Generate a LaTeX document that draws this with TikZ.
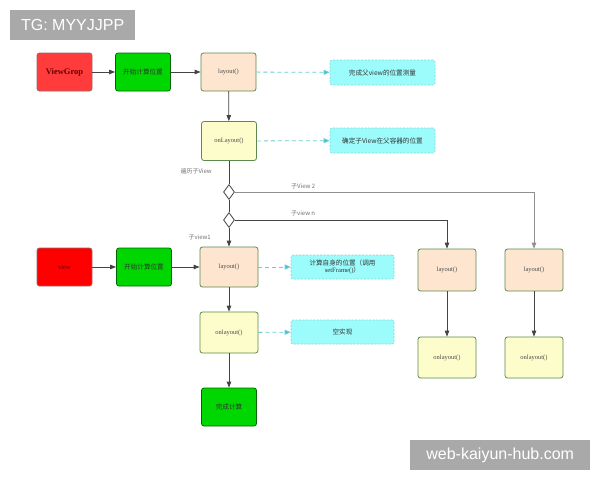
\documentclass[tikz,border=0pt]{standalone}
\usepackage{fontspec}
\setmainfont{Liberation Serif}
\setsansfont{Liberation Sans}
\newfontfamily\cjk{Noto Sans CJK SC}
\usetikzlibrary{shapes.geometric,arrows.meta}
\definecolor{redA}{HTML}{FF3B3B}
\definecolor{redB}{HTML}{FF0000}
\definecolor{greenA}{HTML}{00D600}
\definecolor{peach}{HTML}{FDE5CF}
\definecolor{lyellow}{HTML}{FDFDCC}
\definecolor{cyanfill}{HTML}{9CFCFC}
\definecolor{cyanline}{HTML}{6CCDCD}
\definecolor{boxborder}{HTML}{5C8A4E}
\definecolor{linecol}{HTML}{444444}
\definecolor{banner}{HTML}{A9A9A9}
\tikzset{
  box/.style={draw=boxborder, line width=0.8pt, rounded corners=2.5pt, minimum width=55pt, minimum height=38pt, inner sep=1pt, align=center},
  redbox/.style={box, draw=gray!80!red, fill=redA},
  greenbox/.style={box, draw=green!40!black, fill=greenA, font=\cjk\fontsize{6.6}{8}\selectfont, text=black!80},
  peachbox/.style={box, fill=peach, font=\fontsize{6.5}{8}\selectfont, text=black!70},
  yelbox/.style={box, fill=lyellow, font=\fontsize{6.5}{8}\selectfont, text=black!70},
  cyanbox/.style={draw=cyanline!80!white, dash pattern=on 2pt off 1.5pt, line width=0.6pt, fill=cyanfill, rounded corners=2pt, minimum width=105pt, minimum height=25pt, inner sep=1pt, align=center, font=\cjk\fontsize{6.6}{8}\selectfont, text=black!80},
  dec/.style={draw=linecol, line width=0.8pt, fill=white, diamond, inner sep=0pt, minimum width=11pt, minimum height=15pt},
  conn/.style={draw=linecol, line width=0.8pt, -{Triangle[length=6pt,width=4.5pt]}},
  plainline/.style={draw=linecol, line width=0.8pt},
  dasharrow/.style={draw=cyanline, line width=0.8pt, dash pattern=on 4pt off 3pt, -{Triangle[length=6pt,width=5pt,fill=cyan!80!white]}},
  lbl/.style={font=\cjk\fontsize{6}{7}\selectfont, text=black!55, inner sep=0pt},
  bannerbox/.style={fill=banner, text=white, font=\sffamily, inner sep=0pt, anchor=north west}
}
\begin{document}
\begin{tikzpicture}[x=1pt,y=-1pt]
\useasboundingbox (0,0) rectangle (600,480);
\fill[white] (0,0) rectangle (600,480);
% banners
\node[bannerbox, minimum width=125pt, minimum height=30pt, font=\sffamily\fontsize{16}{18}\selectfont] (tg) at (10,10) {TG: MYYJJPP};
\node[bannerbox, minimum width=180pt, minimum height=30pt, font=\sffamily\fontsize{16}{18}\selectfont] (web) at (410,440) {web-kaiyun-hub.com};
% top row
\node[redbox, fill=redA, font=\bfseries\fontsize{8.5}{10}\selectfont, text=red!40!black] (vg) at (64.5,72) {ViewGrop};
\node[greenbox] (g1) at (143,72) {开始计算位置};
\node[peachbox] (L1) at (228.5,72) {layout()};
\node[cyanbox] (c1) at (382.5,72.5) {完成父view的位置测量};
\node[yelbox, minimum height=39pt] (oL1) at (229,141) {onLayout()};
\node[cyanbox] (c2) at (382.5,140.5) {确定子View在父容器的位置};
% diamonds
\node[dec] (d1) at (229,192) {};
\node[dec] (d2) at (229,220) {};
% middle row
\node[redbox, fill=redB, font=\fontsize{6.5}{8}\selectfont, text=red!40!black] (vw) at (64.5,267) {view};
\node[greenbox] (g2) at (144,267) {开始计算位置};
\node[peachbox, minimum width=58pt, minimum height=40pt] (L2) at (229,267) {layout()};
\node[cyanbox, minimum width=103pt, minimum height=24pt] (c3) at (342.5,267) {计算自身的位置（调用\\[-1pt]{\rmfamily setFrame()}）};
\node[yelbox, minimum width=58pt, minimum height=41pt] (oL2) at (229,332.5) {onlayout()};
\node[cyanbox, minimum width=103pt, minimum height=24pt] (c4) at (342.5,332) {空实现};
\node[greenbox] (done) at (229,407) {完成计算};
% right columns
\node[peachbox, minimum width=58pt, minimum height=42pt] (r1L) at (447,270) {layout()};
\node[peachbox, minimum width=58pt, minimum height=42pt] (r2L) at (534,270) {layout()};
\node[yelbox, minimum width=58pt, minimum height=41pt] (r1o) at (447,357.5) {onlayout()};
\node[yelbox, minimum width=58pt, minimum height=41pt] (r2o) at (534,357.5) {onlayout()};
% connectors
\draw[conn] (vg) -- (g1);
\draw[conn] (g1) -- (L1);
\draw[dasharrow] (L1) -- (c1);
\draw[conn] (L1) -- (oL1);
\draw[dasharrow] (oL1) -- (c2);
\draw[plainline] (oL1) -- (d1);
\draw[plainline] (d1) -- (d2);
\draw[conn] (d2) -- (L2);
\draw[conn, draw=linecol!60] (d1.east) -| (r2L.north);
\draw[conn] (d2.east) -| (r1L.north);
\draw[conn] (vw) -- (g2);
\draw[conn] (g2) -- (L2);
\draw[dasharrow] (L2) -- (c3);
\draw[conn] (L2) -- (oL2);
\draw[dasharrow] (oL2) -- (c4);
\draw[conn] (oL2) -- (done);
\draw[conn] (r1L) -- (r1o);
\draw[conn] (r2L) -- (r2o);
% labels
\node[lbl, anchor=east] (t1) at (212,171) {遍历子View};
\node[lbl, anchor=west] (t2) at (291,186) {子View 2};
\node[lbl, anchor=west] (t3) at (291,213) {子view n};
\node[lbl, anchor=east] (t4) at (211,237) {子view1};
\end{tikzpicture}
\end{document}
